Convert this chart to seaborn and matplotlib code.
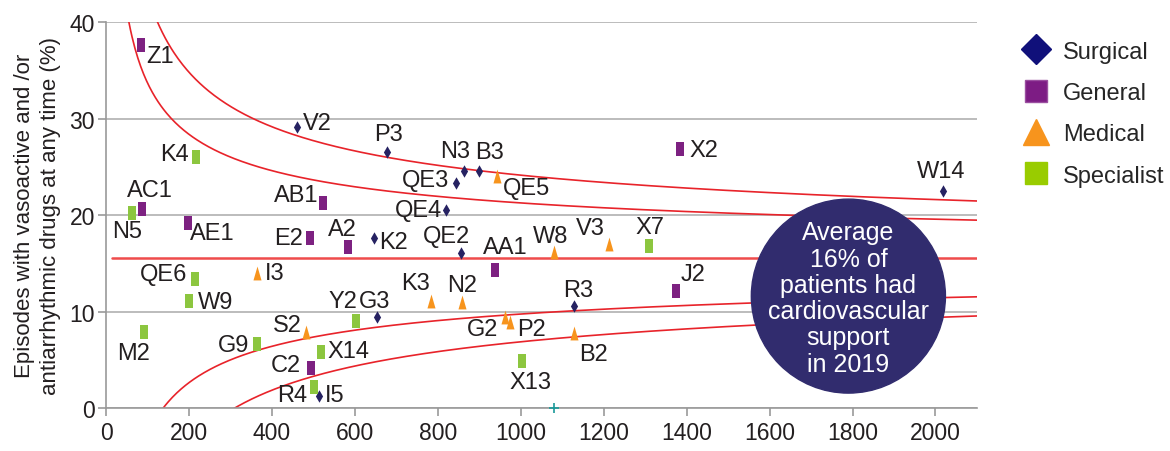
import numpy as np
import pandas as pd
import matplotlib.pyplot as plt
import seaborn as sns
from matplotlib.lines import Line2D
from matplotlib.patches import Ellipse

sns.set_style("white")
plt.rcParams["font.family"] = ["Liberation Sans", "DejaVu Sans"]

# Dados
labels = ["Z1", "V2", "P3", "K4", "AC1", "N5", "AB1", "AE1", "E2", "A2", "K2",
          "QE6", "I3", "W9", "Y2", "G3", "M2", "S2", "G9", "X14", "C2", "R4",
          "I5", "N3", "B3", "QE5", "QE3", "QE4", "QE2", "AA1", "W8", "V3", "X7",
          "X2", "J2", "K3", "N2", "G2", "P2", "R3", "B2", "X13", "W14"]
groups = ["General", "Surgical", "Surgical", "Specialist", "General", "Specialist",
          "General", "General", "General", "General", "Surgical", "Specialist",
          "Medical", "Specialist", "Specialist", "Surgical", "Specialist", "Medical",
          "Specialist", "Specialist", "General", "Specialist", "Surgical", "Surgical",
          "Surgical", "Medical", "Surgical", "Surgical", "Surgical", "General",
          "Medical", "Medical", "Specialist", "General", "General", "Medical",
          "Medical", "Medical", "Medical", "Surgical", "Medical", "Specialist",
          "Surgical"]
episodes = [84, 461, 678, 217, 87, 63, 523, 197, 492, 584, 647, 215, 364, 200,
            603, 653, 92, 483, 364, 518, 494, 502, 514, 864, 900, 943, 844, 820,
            857, 939, 1081, 1214, 1310, 1385, 1375, 784, 859, 963, 975, 1129,
            1129, 1004, 2019]
pct = [37.6, 29.1, 26.5, 26.0, 20.6, 20.2, 21.2, 19.2, 17.6, 16.7, 17.6, 13.4,
       14.0, 11.1, 9.0, 9.4, 7.9, 7.9, 6.6, 5.8, 4.2, 2.2, 1.3, 24.6, 24.6, 24.0,
       23.3, 20.5, 16.1, 14.3, 16.2, 17.0, 16.8, 26.8, 12.1, 11.1, 11.0, 9.4,
       8.9, 10.6, 7.8, 4.9, 22.5]
extra_x = [1081]
extra_y = [0]

group_order = ["Surgical", "General", "Medical", "Specialist"]
colors = {"Surgical": "#262262", "General": "#7D2181",
          "Medical": "#F7941D", "Specialist": "#8CC63F"}

# Funil (média e limites 2 e 3 DP)
mean_pct = 15.5
funnel_scale = 91

df = pd.DataFrame({"label": labels, "group": groups, "n": episodes, "pct": pct})

# posição dos rótulos (pixels, y para baixo)
offsets = {"Z1": (19, 11), "V2": (20, -4), "P3": (1, -18), "K4": (-21, -3),
           "AC1": (8, -19), "N5": (-5, 18), "AB1": (-27, -8), "AE1": (25, 10),
           "E2": (-21, 0), "A2": (-6, -18), "K2": (19, 4), "QE6": (-32, -5),
           "I3": (18, 0), "W9": (27, 1), "Y2": (-13, -20), "G3": (-2, -16),
           "M2": (-11, 21), "S2": (-19, -7), "G9": (-23, 1), "X14": (28, -1),
           "C2": (-25, -3), "R4": (-22, 8), "I5": (16, -1), "N3": (-9, -20),
           "B3": (10, -19), "QE5": (29, 12), "QE3": (-31, -3), "QE4": (-28, 0),
           "QE2": (-15, -17), "AA1": (10, -23), "W8": (-4, -16), "V3": (-19, -16),
           "X7": (1, -19), "X2": (23, 1), "J2": (17, -17), "K3": (-16, -18),
           "N2": (0, -17), "G2": (-23, 12), "P2": (21, 7), "R3": (4, -16),
           "B2": (19, 21), "X13": (8, 21), "W14": (-2, -20)}

rect = [(-0.31, -0.5), (0.31, -0.5), (0.31, 0.5), (-0.31, 0.5)]
diamond = [(0, 0.5), (0.29, 0), (0, -0.5), (-0.29, 0)]
tri = [(0, 0.5), (0.29, -0.5), (-0.29, -0.5)]
markers = {"Surgical": diamond, "General": rect, "Medical": tri, "Specialist": rect}
sizes = {"Surgical": 80, "General": 90, "Medical": 100, "Specialist": 90}

fig = plt.figure(figsize=(11.7, 4.52), dpi=100)
ax = fig.add_axes([0.0906, 0.095, 0.7444, 0.854])

n = np.linspace(14, 2100, 600)
sd = funnel_scale / np.sqrt(n)
ax.plot(n, np.full_like(n, mean_pct), color="#EF4B4B", lw=1.8, zorder=2)
for z in (2, 3):
    ax.plot(n, mean_pct + z * sd, color="#E8232A", lw=1.2, zorder=2)
    ax.plot(n, mean_pct - z * sd, color="#E8232A", lw=1.2, zorder=2)

for g in group_order:
    sub = df[df["group"] == g]
    sns.scatterplot(data=sub, x="n", y="pct", marker=markers[g], s=sizes[g],
                    color=colors[g], linewidth=0, ax=ax, zorder=3, legend=False)

ax.scatter(extra_x, extra_y, marker="+", s=50, color="#1A9A9A", lw=1.2,
           zorder=4, clip_on=False)

for lab, x, y in zip(labels, episodes, pct):
    dx, dy = offsets[lab]
    ax.annotate(lab, (x, y), xytext=(dx, -dy), textcoords="offset pixels",
                ha="center", va="center", fontsize=17, color="#231F20", zorder=5)

circ = Ellipse((1790, 11.6), width=468, height=20.1, color="#312C6E", zorder=6)
ax.add_patch(circ)
ax.text(1790, 11.4, "Average\n16% of\npatients had\ncardiovascular\nsupport\nin 2019",
        ha="center", va="center", color="white", fontsize=18, linespacing=1.12,
        zorder=7)

ax.set_xlim(0, 2100)
ax.set_ylim(0, 40)
ax.set_xticks(range(0, 2001, 200))
ax.set_yticks(range(0, 41, 10))
ax.yaxis.grid(True, color="#B0B0B0", lw=1.2)
ax.set_axisbelow(True)
for s in ("top", "right"):
    ax.spines[s].set_visible(False)
for s in ("left", "bottom"):
    ax.spines[s].set_color("#999999")
    ax.spines[s].set_linewidth(1.2)
ax.tick_params(axis="both", labelsize=16.5, colors="#999999", labelcolor="#231F20",
               length=6, width=1.2, direction="out", left=True, bottom=True)
ax.tick_params(axis="y", pad=2)
ax.set_xlabel("")
ax.set_ylabel("Episodes with vasoactive and /or\nantiarrhythmic drugs at any time (%)",
              fontsize=16, color="#231F20", labelpad=6, linespacing=1.3)

handles = [Line2D([], [], ls="", marker="D", markersize=15, color="#10107A"),
           Line2D([], [], ls="", marker="s", markersize=16, color="#7D1C84",
                  markeredgecolor="#9B4FA0", markeredgewidth=1),
           Line2D([], [], ls="", marker="^", markersize=19, color="#F7941D"),
           Line2D([], [], ls="", marker="s", markersize=16, color="#99CC00")]
fig.legend(handles, group_order, loc="upper left", bbox_to_anchor=(0.855, 0.955),
           frameon=False, fontsize=17, handletextpad=0.55, labelspacing=0.82,
           handlelength=1.2)

plt.savefig("out.png", dpi=100)
plt.close()
